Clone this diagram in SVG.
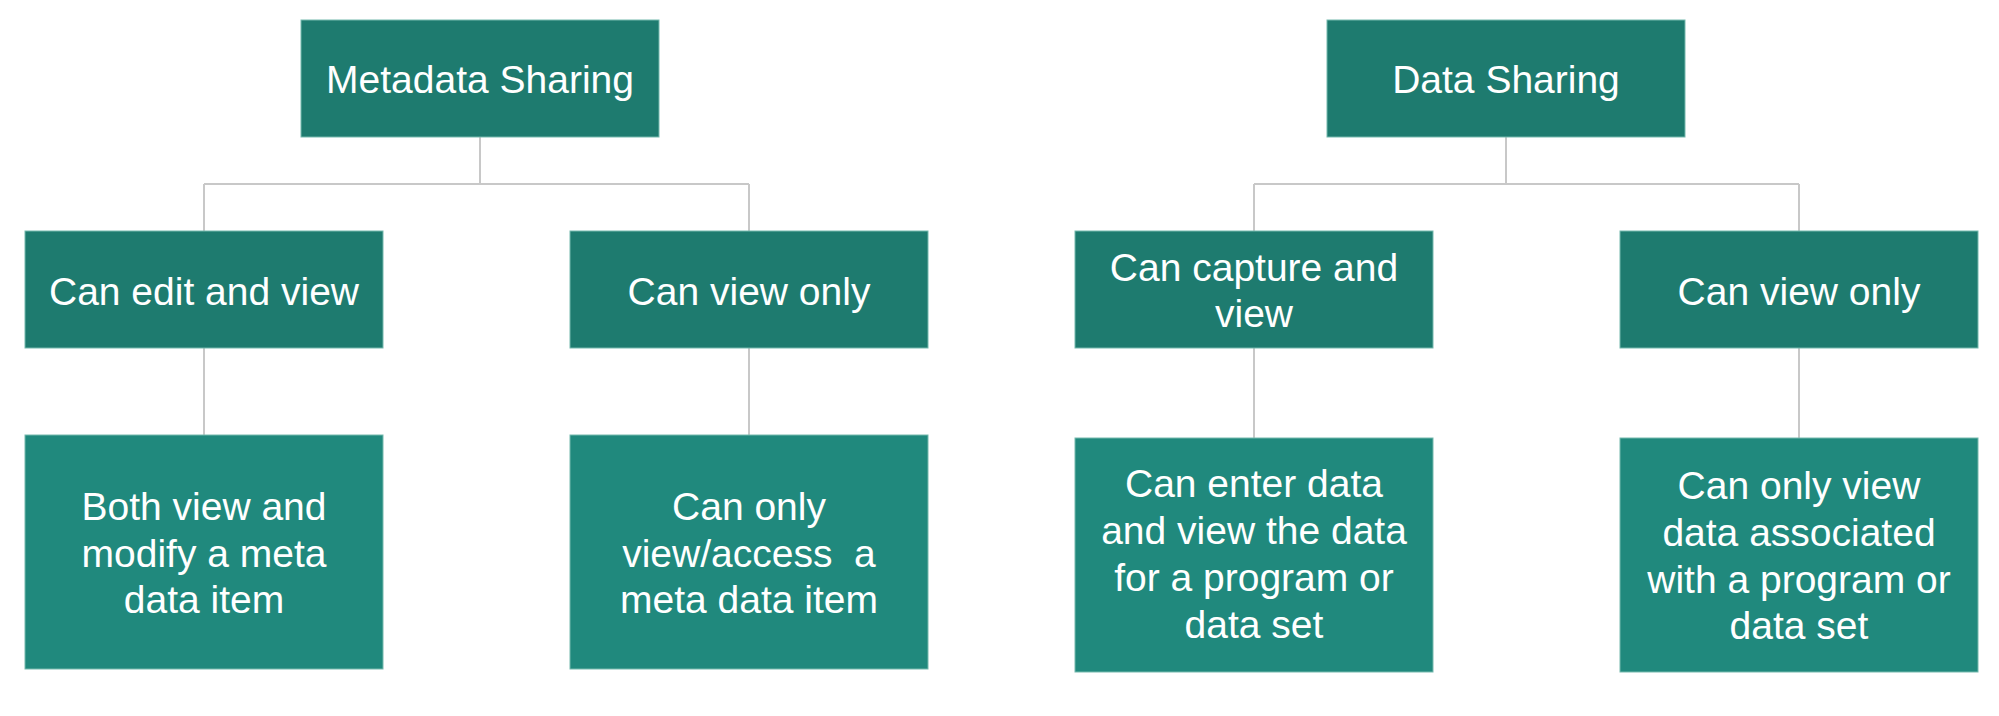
<svg xmlns="http://www.w3.org/2000/svg" width="1999" height="716" viewBox="0 0 1999 716">
<style>
.box{stroke:#74b9ae;stroke-width:1}
.dark{fill:#1e7b6f}
.light{fill:#20897d}
.lbl{font-family:"Liberation Sans",Arial,sans-serif;font-size:39px;fill:#ffffff;text-anchor:middle}
.conn{fill:none;stroke:#c8c8c8;stroke-width:2}
</style>
<rect width="1999" height="716" fill="#ffffff"/>
<g id="connectors">
<path class="conn" d="M480 137V184M204 184H749M204 184V231M749 184V231"/>
<path class="conn" d="M204 348V435M749 348V435"/>
<path class="conn" d="M1506 137V184M1254 184H1799M1254 184V231M1799 184V231"/>
<path class="conn" d="M1254 348V438M1799 348V438"/>
</g>
<g id="metadata-sharing">
<rect class="box dark" x="301" y="20" width="358" height="117"/>
<text class="lbl" x="480" y="93">Metadata Sharing</text>
</g>
<g id="meta-edit-view">
<rect class="box dark" x="25" y="231" width="358" height="117"/>
<text class="lbl" x="204" y="305">Can edit and view</text>
</g>
<g id="meta-view-only">
<rect class="box dark" x="570" y="231" width="358" height="117"/>
<text class="lbl" x="749" y="305">Can view only</text>
</g>
<g id="meta-edit-desc">
<rect class="box light" x="25" y="435" width="358" height="234"/>
<text class="lbl"><tspan x="204" y="520">Both view and</tspan><tspan x="204" y="567">modify a meta</tspan><tspan x="204" y="613">data item</tspan></text>
</g>
<g id="meta-view-desc">
<rect class="box light" x="570" y="435" width="358" height="234"/>
<text class="lbl" xml:space="preserve"><tspan x="749" y="520">Can only</tspan><tspan x="749" y="567">view/access  a</tspan><tspan x="749" y="613">meta data item</tspan></text>
</g>
<g id="data-sharing">
<rect class="box dark" x="1327" y="20" width="358" height="117"/>
<text class="lbl" x="1506" y="93">Data Sharing</text>
</g>
<g id="data-capture-view">
<rect class="box dark" x="1075" y="231" width="358" height="117"/>
<text class="lbl"><tspan x="1254" y="281">Can capture and</tspan><tspan x="1254" y="327">view</tspan></text>
</g>
<g id="data-view-only">
<rect class="box dark" x="1620" y="231" width="358" height="117"/>
<text class="lbl" x="1799" y="305">Can view only</text>
</g>
<g id="data-capture-desc">
<rect class="box light" x="1075" y="438" width="358" height="234"/>
<text class="lbl"><tspan x="1254" y="497">Can enter data</tspan><tspan x="1254" y="544">and view the data</tspan><tspan x="1254" y="591">for a program or</tspan><tspan x="1254" y="638">data set</tspan></text>
</g>
<g id="data-view-desc">
<rect class="box light" x="1620" y="438" width="358" height="234"/>
<text class="lbl"><tspan x="1799" y="499">Can only view</tspan><tspan x="1799" y="546">data associated</tspan><tspan x="1799" y="593">with a program or</tspan><tspan x="1799" y="639">data set</tspan></text>
</g>
</svg>
